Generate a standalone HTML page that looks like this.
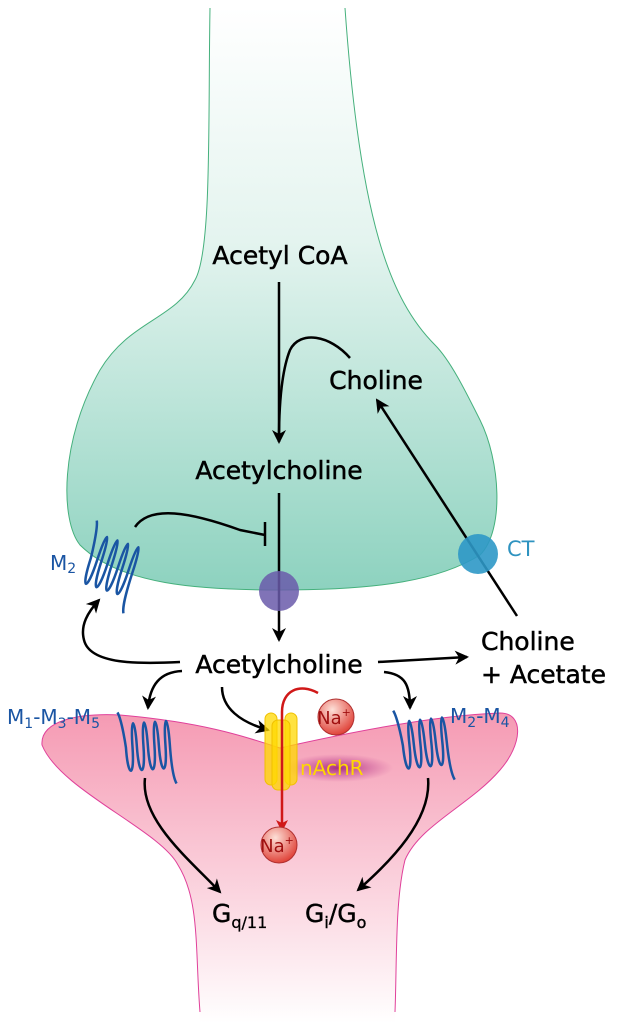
<!DOCTYPE html>
<html><head><meta charset="utf-8"><style>
html,body{margin:0;padding:0;background:#fff}
svg{display:block}
text{font-family:"DejaVu Sans","Liberation Sans",sans-serif}
</style></head><body>
<svg width="618" height="1023" viewBox="0 0 618 1023">
<defs>
<linearGradient id="pre" x1="0" y1="0" x2="0" y2="1"><stop offset="0" stop-color="#ffffff"/><stop offset="0.4" stop-color="#e4f4ef"/><stop offset="1" stop-color="#8dd2bf"/></linearGradient>
<linearGradient id="post" x1="0" y1="0" x2="0" y2="1"><stop offset="0" stop-color="#f59ab3"/><stop offset="1" stop-color="#ffffff"/></linearGradient>
<radialGradient id="na" cx="0.4" cy="0.3" r="0.7"><stop offset="0" stop-color="#fde0d8"/><stop offset="1" stop-color="#e0443a"/></radialGradient>
<radialGradient id="glow"><stop offset="0" stop-color="#a0207a" stop-opacity="0.9"/><stop offset="1" stop-color="#c04090" stop-opacity="0"/></radialGradient>
<marker id="ah" markerWidth="14" markerHeight="14" refX="12" refY="7" orient="auto" markerUnits="userSpaceOnUse" viewBox="0 0 14 14"><path d="M0,0 L14,7 L0,14 L4,7Z" fill="#000"/></marker>
<marker id="ahr" markerWidth="12" markerHeight="12" refX="10" refY="6" orient="auto" markerUnits="userSpaceOnUse" viewBox="0 0 12 12"><path d="M0,0 L12,6 L0,12 L3,6Z" fill="#d01818"/></marker>
</defs>
<path d="M210,8 C208,120 212,250 195,280 C175,320 130,320 100,370 C60,440 60,520 80,545 C120,585 200,590 280,590 C380,590 440,580 480,555 C505,530 500,460 480,420 C465,390 450,360 435,345 C390,300 360,220 345,8 Z" fill="url(#pre)"/>
<path d="M210,8 C208,120 212,250 195,280 C175,320 130,320 100,370 C60,440 60,520 80,545 C120,585 200,590 280,590 C380,590 440,580 480,555 C505,530 500,460 480,420 C465,390 450,360 435,345 C390,300 360,220 345,8" fill="none" stroke="#45b07c" stroke-width="1"/>
<path d="M42,745 C40,720 80,713 120,715 C200,722 240,735 280,748 C360,730 440,715 500,713 C525,713 522,745 500,770 C470,805 420,825 405,860 C395,900 397,960 395,1023 L200,1023 C195,950 200,900 178,865 C160,830 60,790 42,745 Z" fill="url(#post)"/>
<path d="M200,1012 C195,950 200,900 178,865 C160,830 60,790 42,745 C40,720 80,713 120,715 C200,722 240,735 280,748 C360,730 440,715 500,713 C525,713 522,745 500,770 C470,805 420,825 405,860 C395,900 397,960 395,1012" fill="none" stroke="#e0409a" stroke-width="1"/>
<g fill="none" stroke="#000" stroke-width="2.5">
<path d="M279,282 L279,442" marker-end="url(#ah)"/>
<path d="M350,358 C330,335 300,330 290,350 C282,370 279,400 279,440"/>
<path d="M279,493 L279,640" marker-end="url(#ah)"/>
<path d="M517,616 L377,400" marker-end="url(#ah)"/>
<path d="M135,527 C150,505 190,512 240,530 L265,535 M265,522 L265,546"/>
<path d="M180,662 C140,664 90,665 84,640 C80,625 88,612 99,600" marker-end="url(#ah)"/>
<path d="M378,662 L467,657" marker-end="url(#ah)"/>
<path d="M182,671 C160,672 150,685 148,708" marker-end="url(#ah)"/>
<path d="M222,687 C222,708 240,722 268,730" marker-end="url(#ah)"/>
<path d="M384,672 C405,674 410,685 410,708" marker-end="url(#ah)"/>
<path d="M145,778 C140,820 190,860 220,892" marker-end="url(#ah)"/>
<path d="M428,778 C432,820 390,862 358,890" marker-end="url(#ah)"/>
</g>
<circle cx="279" cy="591" r="20" fill="#6a5aaa" fill-opacity="0.85"/>
<circle cx="478" cy="554" r="20" fill="#2e98c6" fill-opacity="0.9"/>
<ellipse cx="338" cy="768" rx="55" ry="14" fill="url(#glow)"/>
<g fill="#ffd800" fill-opacity="0.75" stroke="#f0c000">
<rect x="265" y="713" width="12" height="72" rx="6"/>
<rect x="285" y="713" width="12" height="72" rx="6"/>
<rect x="272" y="720" width="18" height="70" rx="6"/>
</g>
<path d="M318,693 C300,683 282,690 282,712 L282,830" fill="none" stroke="#d01818" stroke-width="2.5" marker-end="url(#ahr)"/>
<g id="rec" fill="none" stroke="#1a55a3" stroke-width="2.5"></g>
<circle cx="336" cy="717" r="18" fill="url(#na)" stroke="#b03030"/>
<circle cx="279" cy="845" r="18" fill="url(#na)" stroke="#b03030"/>
<text x="334" y="724" font-size="18" fill="#a01010" text-anchor="middle">Na<tspan font-size="11" dy="-8">+</tspan></text>
<text x="277" y="852" font-size="18" fill="#a01010" text-anchor="middle">Na<tspan font-size="11" dy="-8">+</tspan></text>
<g font-size="25" fill="#000" stroke="#000" stroke-width="0.5" text-anchor="middle">
<text x="280" y="264">Acetyl CoA</text>
<text x="376" y="389">Choline</text>
<text x="279" y="479">Acetylcholine</text>
<text x="279" y="673">Acetylcholine</text>
</g>
<text font-size="25" fill="#000" stroke="#000" stroke-width="0.5"><tspan x="481" y="650">Choline</tspan><tspan x="481" y="683">+ Acetate</tspan></text>
<text x="50" y="570" font-size="20" fill="#1a55a3">M<tspan font-size="14" dy="3">2</tspan></text>
<text x="507" y="556" font-size="21" fill="#2e93c0">CT</text>
<text x="7" y="724" font-size="20" fill="#1a55a3">M<tspan font-size="14" dy="4">1</tspan><tspan dy="-4">-M</tspan><tspan font-size="14" dy="4">3</tspan><tspan dy="-4">-M</tspan><tspan font-size="14" dy="4">5</tspan></text>
<text x="450" y="723" font-size="20" fill="#1a55a3">M<tspan font-size="14" dy="4">2</tspan><tspan dy="-4">-M</tspan><tspan font-size="14" dy="4">4</tspan></text>
<text x="300" y="775" font-size="20" fill="#ffd800">nAchR</text>
<text x="212" y="922" font-size="25" fill="#000" stroke="#000" stroke-width="0.4">G<tspan font-size="16" dy="6" stroke-width="0.3">q/11</tspan></text>
<text x="305" y="922" font-size="25" fill="#000" stroke="#000" stroke-width="0.4">G<tspan font-size="16" dy="6">i</tspan><tspan dy="-6">/G</tspan><tspan font-size="16" dy="6">o</tspan></text>
</svg>
<script>
function coil(x,y,n,w,h,rot,name){
  var d='M'+(x-6)+','+(y-8)+' C'+(x-2)+','+(y)+' '+(x)+','+(y+h*0.5)+' '+x+','+(y+h*0.5);
  for(var i=0;i<n;i++){
    var a=x+i*w;
    d+=' C'+(a)+','+(y+h+4)+' '+(a+w*0.6)+','+(y+h+4)+' '+(a+w*0.6)+','+(y+h*0.5);
    d+=' C'+(a+w*0.6)+','+(y-4)+' '+(a+w)+','+(y-4)+' '+(a+w)+','+(y+h*0.5);
  }
  d+=' C'+(x+n*w)+','+(y+h)+' '+(x+n*w+2)+','+(y+h+8)+' '+(x+n*w+4)+','+(y+h+12);
  var p=document.createElementNS('http://www.w3.org/2000/svg','path');
  p.setAttribute('d',d);
  p.setAttribute('transform','rotate('+rot+' '+x+' '+y+')');
  
  
  document.getElementById('rec').appendChild(p);
}
coil(100,530,4,11,60,18,'m2-autoreceptor');
coil(124,720,4,11,55,-4,'m1-m3-m5-receptor');
coil(400,718,4,11,55,-6,'m2-m4-receptor');
</script>
</body></html>
